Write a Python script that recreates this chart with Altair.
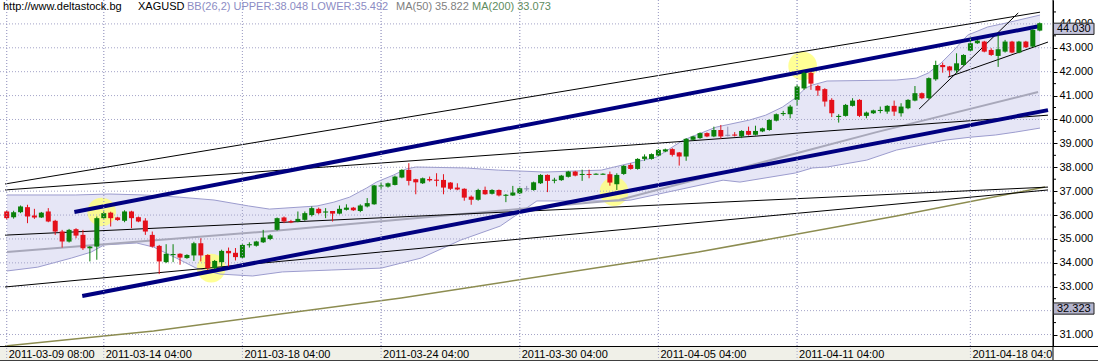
import altair as alt
import pandas as pd
import numpy as np

# ---------------- data ----------------
OPEN = [36.15,35.91,36.12,36.33,35.98,35.90,36.15,35.76,35.31,34.89,
        35.41,35.17,34.61,34.68,35.87,36.10,35.90,35.76,36.15,35.91,
        35.77,35.17,34.71,34.03,34.35,34.38,34.20,34.31,34.82,34.33,
        33.78,34.03,34.50,34.42,34.22,34.74,34.72,34.86,35.00,35.38,
        35.90,35.75,35.73,35.80,36.00,36.26,36.12,36.17,36.06,36.22,
        36.31,36.17,36.36,36.45,37.20,37.19,37.26,37.57,37.89,37.50,
        37.33,37.51,37.48,37.47,37.36,37.15,37.10,36.77,36.64,37.05,
        36.89,37.05,36.83,36.82,36.91,37.12,37.05,37.33,37.68,37.46,
        37.46,37.60,37.82,37.70,37.72,37.72,37.71,37.71,37.29,37.72,
        38.10,37.93,38.35,38.35,38.49,38.66,38.76,38.62,38.45,39.15,
        39.22,39.43,39.29,39.56,39.36,39.37,39.29,39.52,39.36,39.50,
        39.56,39.95,40.25,40.22,40.82,41.30,41.95,41.40,41.27,40.82,
        40.13,40.15,40.57,40.82,40.15,40.26,40.37,40.33,40.57,40.26,
        40.47,40.79,41.10,40.89,41.68,42.28,42.22,42.05,42.28,42.88,
        43.19,43.26,42.91,42.66,42.84,43.26,42.80,43.26,43.05,43.72]
CLOSE = [35.87,36.12,36.36,35.94,35.90,36.10,35.73,35.31,34.89,35.38,
         35.14,34.61,34.68,35.87,36.08,35.87,35.79,36.15,35.87,35.73,
         35.31,34.68,34.06,34.38,34.37,34.22,34.33,34.82,34.31,33.78,
         34.08,34.50,34.40,34.24,34.75,34.78,34.89,35.06,35.15,35.87,
         35.73,35.69,35.84,36.08,36.29,36.08,36.15,36.06,36.26,36.31,
         36.20,36.40,36.50,37.24,37.24,37.33,37.61,37.89,37.43,37.37,
         37.54,37.45,37.47,37.15,37.10,37.07,36.73,36.64,37.05,36.87,
         37.05,36.82,36.85,36.94,37.12,37.12,37.37,37.68,37.43,37.48,
         37.65,37.82,37.65,37.72,37.71,37.73,37.73,37.36,37.68,38.06,
         37.93,38.35,38.45,38.55,38.73,38.75,38.52,38.45,39.19,39.29,
         39.43,39.29,39.56,39.29,39.36,39.35,39.52,39.36,39.52,39.63,
         39.98,40.22,40.27,40.54,41.38,41.95,41.50,41.21,40.75,40.26,
         40.15,40.61,40.79,40.15,40.29,40.38,40.40,40.57,40.33,40.54,
         40.82,41.10,40.89,41.73,42.28,42.19,42.05,42.35,42.70,43.19,
         43.30,42.84,42.70,42.94,43.26,42.80,43.26,43.02,43.75,44.03]
HIGH = [36.20,36.18,36.40,36.43,36.26,36.13,36.29,35.80,35.38,35.42,
        35.45,35.38,34.70,35.94,36.15,36.14,35.93,36.20,36.18,35.94,
        35.87,35.31,34.75,34.78,34.78,34.40,34.36,34.88,35.03,34.36,
        34.12,34.55,34.64,34.62,34.78,34.86,34.92,35.38,35.20,35.90,
        35.94,35.80,36.15,36.15,36.36,36.31,36.29,36.17,36.40,36.45,
        36.34,36.45,36.71,37.26,37.36,37.36,37.65,37.92,38.17,37.52,
        37.57,37.61,37.75,37.71,37.38,37.33,37.12,36.82,37.10,37.19,
        37.08,37.07,36.88,37.22,37.15,37.22,37.40,37.71,37.70,37.56,
        37.68,37.85,37.85,37.90,37.90,37.75,37.75,37.82,37.75,38.09,
        38.17,38.38,38.54,38.58,38.76,38.78,38.80,38.64,39.22,39.32,
        39.46,39.46,39.70,39.77,39.70,39.47,39.55,39.70,39.74,39.66,
        40.01,40.25,40.36,40.61,41.45,42.00,42.00,41.45,41.31,40.89,
        40.22,40.65,40.89,40.85,40.33,40.41,40.54,40.60,40.79,40.68,
        40.85,41.40,41.13,41.76,42.46,42.38,42.24,42.77,42.73,43.40,
        43.33,43.29,42.98,43.54,43.33,43.29,43.29,43.29,43.78,44.06]
LOW = [35.80,35.85,36.08,35.66,35.84,35.88,35.70,35.17,34.64,34.85,
       35.03,34.54,34.06,34.13,35.85,35.52,35.76,35.70,35.45,35.70,
       35.17,34.64,33.53,33.99,34.03,33.92,34.17,34.08,34.06,33.70,
       33.74,33.85,33.85,34.10,34.19,34.64,34.68,34.83,34.95,35.35,
       35.66,35.66,35.70,35.76,35.94,36.03,35.87,35.73,36.03,36.19,
       36.17,36.12,36.32,36.43,37.10,37.15,37.24,37.54,37.24,36.87,
       37.30,37.40,37.20,36.87,37.05,37.04,36.60,36.43,36.60,36.85,
       36.86,36.78,36.54,36.80,36.88,37.00,37.02,37.30,36.96,37.33,
       37.43,37.57,37.62,37.43,37.54,37.70,37.69,37.23,37.05,37.68,
       37.90,37.90,38.27,38.32,38.46,38.63,38.45,38.07,38.27,39.12,
       39.19,39.26,39.26,39.19,39.29,39.29,39.22,39.33,39.33,39.47,
       39.53,39.92,40.15,40.05,40.58,41.24,41.24,40.99,40.54,40.10,
       39.87,40.12,40.54,40.10,40.05,40.23,40.26,40.24,40.15,40.12,
       40.43,40.76,40.85,40.86,41.62,41.96,41.82,41.94,42.25,42.85,
       43.16,42.81,42.66,42.20,42.80,42.77,42.77,42.99,43.02,43.69]

X_LABEL_BARS = [0, 14, 34, 54, 74, 94, 114, 139]
X_LABELS = ["2011-03-09 08:00", "2011-03-14 04:00", "2011-03-18 04:00",
            "2011-03-24 04:00", "2011-03-30 04:00", "2011-04-05 04:00",
            "2011-04-11 04:00", "2011-04-18 04:0"]
Y_GRID = list(range(31, 45))
Y_LABELLED = [31, 33, 34, 35, 36, 37, 38, 39, 40, 41, 42, 43, 44]  # 32.000 sits under the 32.323 marker
Y_MINOR = [v + 0.5 for v in range(30, 45)]

UPPER_K = [0.04, 9.9, 14.9, 19.9, 24.9, 29.9, 34.9, 37.9, 44.76, 47.19, 49.47,
           51.9, 53.33, 55.76, 57.61, 59.04, 66.19, 70.9, 77.61, 85.76, 87.61,
           93.76, 97.61, 102.33, 107.19, 109.47, 111.9, 113.76, 115.19, 116.19,
           118.33, 128.33, 131.19, 132.9, 134.76, 136.61, 138.61, 141.47, 144.04, 149.04]
UPPER_P = [36.84, 36.84, 36.88, 36.84, 36.75, 36.63, 36.38, 36.25, 36.38, 36.54, 36.75,
           37.13, 37.38, 37.67, 37.93, 38.01, 37.97, 37.88, 37.80, 37.88, 38.01,
           38.43, 39.14, 39.68, 39.98, 40.18, 40.52, 40.90, 41.31, 41.44,
           41.61, 41.65, 41.73, 41.94, 42.36, 42.90, 43.53, 43.87, 44.03, 44.37]
LOWER_K = [0.04, 4.47, 9.33, 12.19, 14.04, 18.76, 21.19, 24.47, 27.33, 30.76, 35.47,
           39.76, 46.9, 54.04, 59.76, 65.47, 71.19, 76.47, 88.33, 90.04, 103.33,
           105.76, 113.76, 116.19, 118.33, 124.04, 128.33, 135.47, 139.04, 142.61,
           145.47, 149.04]
LOWER_P = [33.66, 33.82, 34.20, 34.45, 34.75, 34.83, 34.66, 34.20, 33.78, 33.53, 33.45,
           33.62, 33.70, 33.78, 34.20, 34.95, 35.54, 36.59, 36.59, 36.63, 37.46,
           37.38, 37.76, 37.97, 38.01, 38.30, 38.72, 39.14, 39.26, 39.35,
           39.47, 39.64]
MA50_K = [0.04, 38.33, 88.33, 125.47, 148.76]
MA50_P = [34.45, 35.33, 36.63, 39.47, 41.15]
MA200_K = [-0.243, 21.19, 56.9, 99.76, 128.33, 149.76]
MA200_P = [30.52, 31.15, 32.53, 34.45, 35.96, 37.17]

THIN_K1 = [-0.243, -0.243, -0.243, -0.243, 131.61, 135.76]
THIN_P1 = [37.30, 37.05, 35.16, 32.99, 40.44, 41.77]
THIN_K2 = [149.04, 150.19, 150.19, 150.19, 145.9, 150.19]
THIN_P2 = [44.49, 40.18, 37.17, 37.05, 44.46, 43.24]
NAVY_K1 = [9.76, 10.9]
NAVY_P1 = [36.13, 32.61]
NAVY_K2 = [149.04, 150.19]
NAVY_P2 = [43.91, 40.39]

CIRCLE_K = [13.7, 29.5, 87.6, 114.8]
CIRCLE_P = [36.13, 33.78, 36.98, 42.24]

LAST_PRICE = 44.030
MARK_PRICE = 32.323

# ---------------- chart ----------------
FONT = "Liberation Sans"
XS = alt.Scale(domain=[-0.243, 150.19], nice=False, zero=False)
YS = alt.Scale(domain=[30.52, 45.0], nice=False, zero=False)
YAX = alt.Axis(orient="right", values=Y_LABELLED, format=".3f", labelFont=FONT,
               labelFontSize=11, labelColor="black", tickColor="black", tickSize=4,
               domainColor="black", grid=False, title=None, labelPadding=2)
BASE_P = 30.52


def X(f):
    return alt.X(f, type="quantitative", scale=XS, axis=None)


def Y(f):
    return alt.Y(f, type="quantitative", scale=YS, axis=YAX)


up_df = pd.DataFrame({"k": UPPER_K, "p": UPPER_P})
lo_df = pd.DataFrame({"k": LOWER_K, "p": LOWER_P})

band_fill = alt.Chart(up_df).mark_area(color="#E6E6F6", clip=True).transform_calculate(
    b=str(BASE_P)).encode(x=X("k"), y=Y("p"), y2="b:Q")
band_cut = alt.Chart(lo_df).mark_area(color="white", clip=True).transform_calculate(
    b=str(BASE_P)).encode(x=X("k"), y=Y("p"), y2="b:Q")
band_up = alt.Chart(up_df).mark_line(color="#9C9CCE", strokeWidth=1).encode(x=X("k"), y=Y("p"))
band_lo = alt.Chart(lo_df).mark_line(color="#9C9CCE", strokeWidth=1).encode(x=X("k"), y=Y("p"))

circles = alt.Chart(pd.DataFrame({"k": CIRCLE_K, "p": CIRCLE_P})).mark_circle(
    size=820, color="#FFFF7A", opacity=0.8).encode(x=X("k"), y=Y("p"))

hgrid = alt.Chart(pd.DataFrame({"p": Y_GRID})).mark_rule(
    color="#A4A4C8", strokeDash=[1, 2], strokeWidth=1).encode(
    y=Y("p"), x=alt.value(0), x2=alt.value(1053))
vgrid = alt.Chart(pd.DataFrame({"k": X_LABEL_BARS})).mark_rule(
    color="#A4A4C8", strokeDash=[1, 2], strokeWidth=1).encode(
    x=X("k"), y=alt.value(0), y2=alt.value(361))

ma200 = alt.Chart(pd.DataFrame({"k": MA200_K, "p": MA200_P})).mark_line(
    color="#8C8C50", strokeWidth=1.5).encode(x=X("k"), y=Y("p"))
ma50 = alt.Chart(pd.DataFrame({"k": MA50_K, "p": MA50_P})).mark_line(
    color="#A8A8BA", strokeWidth=2).encode(x=X("k"), y=Y("p"))

thin = alt.Chart(pd.DataFrame({"k1": THIN_K1, "p1": THIN_P1, "k2": THIN_K2, "p2": THIN_P2})).mark_rule(
    color="black", strokeWidth=1).encode(x=X("k1"), y=Y("p1"), x2="k2:Q", y2="p2:Q")
navy = alt.Chart(pd.DataFrame({"k1": NAVY_K1, "p1": NAVY_P1, "k2": NAVY_K2, "p2": NAVY_P2})).mark_rule(
    color="#000080", strokeWidth=4).encode(x=X("k1"), y=Y("p1"), x2="k2:Q", y2="p2:Q")

cdf = pd.DataFrame({"k": range(len(OPEN)), "o": OPEN, "c": CLOSE, "h": HIGH, "l": LOW})
cdf["dir"] = np.where(cdf.c > cdf.o, "up", np.where(cdf.c < cdf.o, "down", "flat"))
CSCALE = alt.Scale(domain=["up", "down", "flat"], range=["#0A800A", "#E4101A", "#9090B4"])

wick = alt.Chart(cdf).mark_rule(strokeWidth=1).encode(
    x=X("k"), y=Y("l"), y2="h:Q", color=alt.Color("dir:N", scale=CSCALE, legend=None))
body = alt.Chart(cdf).transform_calculate(
    top="max(datum.o, datum.c)",
    bot="min(min(datum.o, datum.c), max(datum.o, datum.c) - 0.045)").mark_bar(size=5).encode(
    x=X("k"), y=Y("top:Q"), y2="bot:Q", color=alt.Color("dir:N", scale=CSCALE, legend=None))

# bottom time axis band
band_df = pd.DataFrame({"a": [0]})
xband = alt.Chart(band_df).mark_rect(color="#F0F0E8").encode(
    x=alt.value(0), x2=alt.value(1053), y=alt.value(346), y2=alt.value(361))
xband_line = alt.Chart(band_df).mark_rule(color="black", strokeWidth=1).encode(
    x=alt.value(0), x2=alt.value(1098), y=alt.value(346.5))
raxis_line = alt.Chart(band_df).mark_rule(color="black", strokeWidth=1).encode(
    x=alt.value(1053), y=alt.value(0), y2=alt.value(361))
bottom_line = alt.Chart(band_df).mark_rule(color="#404040", strokeWidth=1).encode(
    x=alt.value(0), x2=alt.value(1098), y=alt.value(360.5))
xlabels = alt.Chart(pd.DataFrame({"k": X_LABEL_BARS, "t": X_LABELS})).mark_text(
    align="left", baseline="alphabetic", dx=2, font=FONT, fontSize=11, color="black").encode(
    x=X("k"), y=alt.value(358), text="t:N")

minor = alt.Chart(pd.DataFrame({"p": Y_MINOR + [32]})).mark_rule(color="black").encode(
    y=Y("p"), x=alt.value(1053), x2=alt.value(1056))

box_df = pd.DataFrame({"v": [LAST_PRICE, MARK_PRICE], "t": [f"{LAST_PRICE:.3f}", f"{MARK_PRICE:.3f}"],
                       "f": ["#C4C4DC", "#B4B4CC"]})
boxes = alt.Chart(box_df).transform_calculate(v2="datum.v - 0.47").mark_rect(
    stroke="#202020", strokeWidth=1).encode(
    x=alt.value(1053.5), x2=alt.value(1094), y=Y("v"), y2="v2:Q",
    fill=alt.Color("f:N", scale=None))
box_text = alt.Chart(box_df).transform_calculate(vm="datum.v - 0.235").mark_text(
    align="left", baseline="middle", font=FONT, fontSize=11, color="black").encode(
    x=alt.value(1057), y=Y("vm:Q"), text="t:N")

# header
hdr_df = pd.DataFrame({"a": [0]})
def hdr(txt, x, col):
    return alt.Chart(hdr_df).mark_text(align="left", baseline="alphabetic", font=FONT,
                                       fontSize=11, color=col, text=txt).encode(
        x=alt.value(x), y=alt.value(10))

header = (hdr("http://www.deltastock.bg", 3, "black") + hdr("XAGUSD", 138, "black") +
          hdr("BB(26,2) UPPER:38.048 LOWER:35.492", 187, "#8C8CC4") +
          hdr("MA(50) 35.822", 396, "#808080") + hdr("MA(200) 33.073", 472, "#5E8C5E"))

chart = alt.layer(
    band_fill, band_cut, circles, band_up, band_lo, hgrid, vgrid, ma200, ma50,
    thin, navy, wick, body, xband, vgrid, xband_line, raxis_line, bottom_line, xlabels,
    minor, boxes, box_text, header
).properties(
    width=1053, height=346,
    padding={"left": 0, "top": 0, "right": 45, "bottom": 15},
    autosize=alt.AutoSizeParams(type="none"),
    background="white",
).configure_view(stroke=None)

chart.save("out.html", embed_options={"renderer": "svg", "actions": False})
